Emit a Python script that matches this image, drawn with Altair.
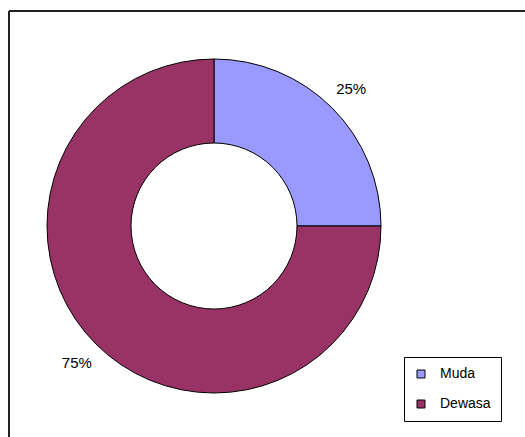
import altair as alt
import pandas as pd

categories = ["Muda", "Dewasa"]
values = [25, 75]
labels = ["25%", "75%"]
colors = ["#9999FF", "#993366"]

df = pd.DataFrame({
    "category": categories,
    "value": values,
    "label": labels,
    "order": list(range(len(categories))),
})

cx, cy = 214, 226

base = alt.Chart(df).encode(
    theta=alt.Theta("value:Q", stack=True),
    order=alt.Order("order:Q"),
    x=alt.value(cx),
    y=alt.value(cy),
)

arcs = base.mark_arc(outerRadius=167, innerRadius=83, stroke="black", strokeWidth=1).encode(
    color=alt.Color(
        "category:N",
        scale=alt.Scale(domain=categories, range=colors),
        sort=categories,
        title=None,
        legend=alt.Legend(
            orient="none", legendX=404, legendY=357,
            symbolType="square", symbolSize=64,
            symbolStrokeColor="black", symbolStrokeWidth=1,
            labelFontSize=14, labelFont="Liberation Sans", labelColor="black",
            labelOffset=12, rowPadding=16, padding=10,
            strokeColor="black", fillColor="white",
        ),
    )
)

text = base.mark_text(radius=194, fontSize=15, font="Liberation Sans", color="black").encode(
    text="label:N"
)

frame_df = pd.DataFrame({"a": [0]})
top_line = alt.Chart(frame_df).mark_rule(color="#222222", strokeWidth=2).encode(
    x=alt.value(9), x2=alt.value(530), y=alt.value(11)
)
left_line = alt.Chart(frame_df).mark_rule(color="#222222", strokeWidth=2).encode(
    x=alt.value(9), y=alt.value(11), y2=alt.value(440)
)

chart = alt.layer(top_line, left_line, arcs, text).properties(
    width=525, height=437,
    autosize=alt.AutoSizeParams(type="none"),
    padding=0,
    background="white",
).configure_view(stroke=None)

chart.save("out.html", embed_options={"renderer": "svg", "actions": False})
